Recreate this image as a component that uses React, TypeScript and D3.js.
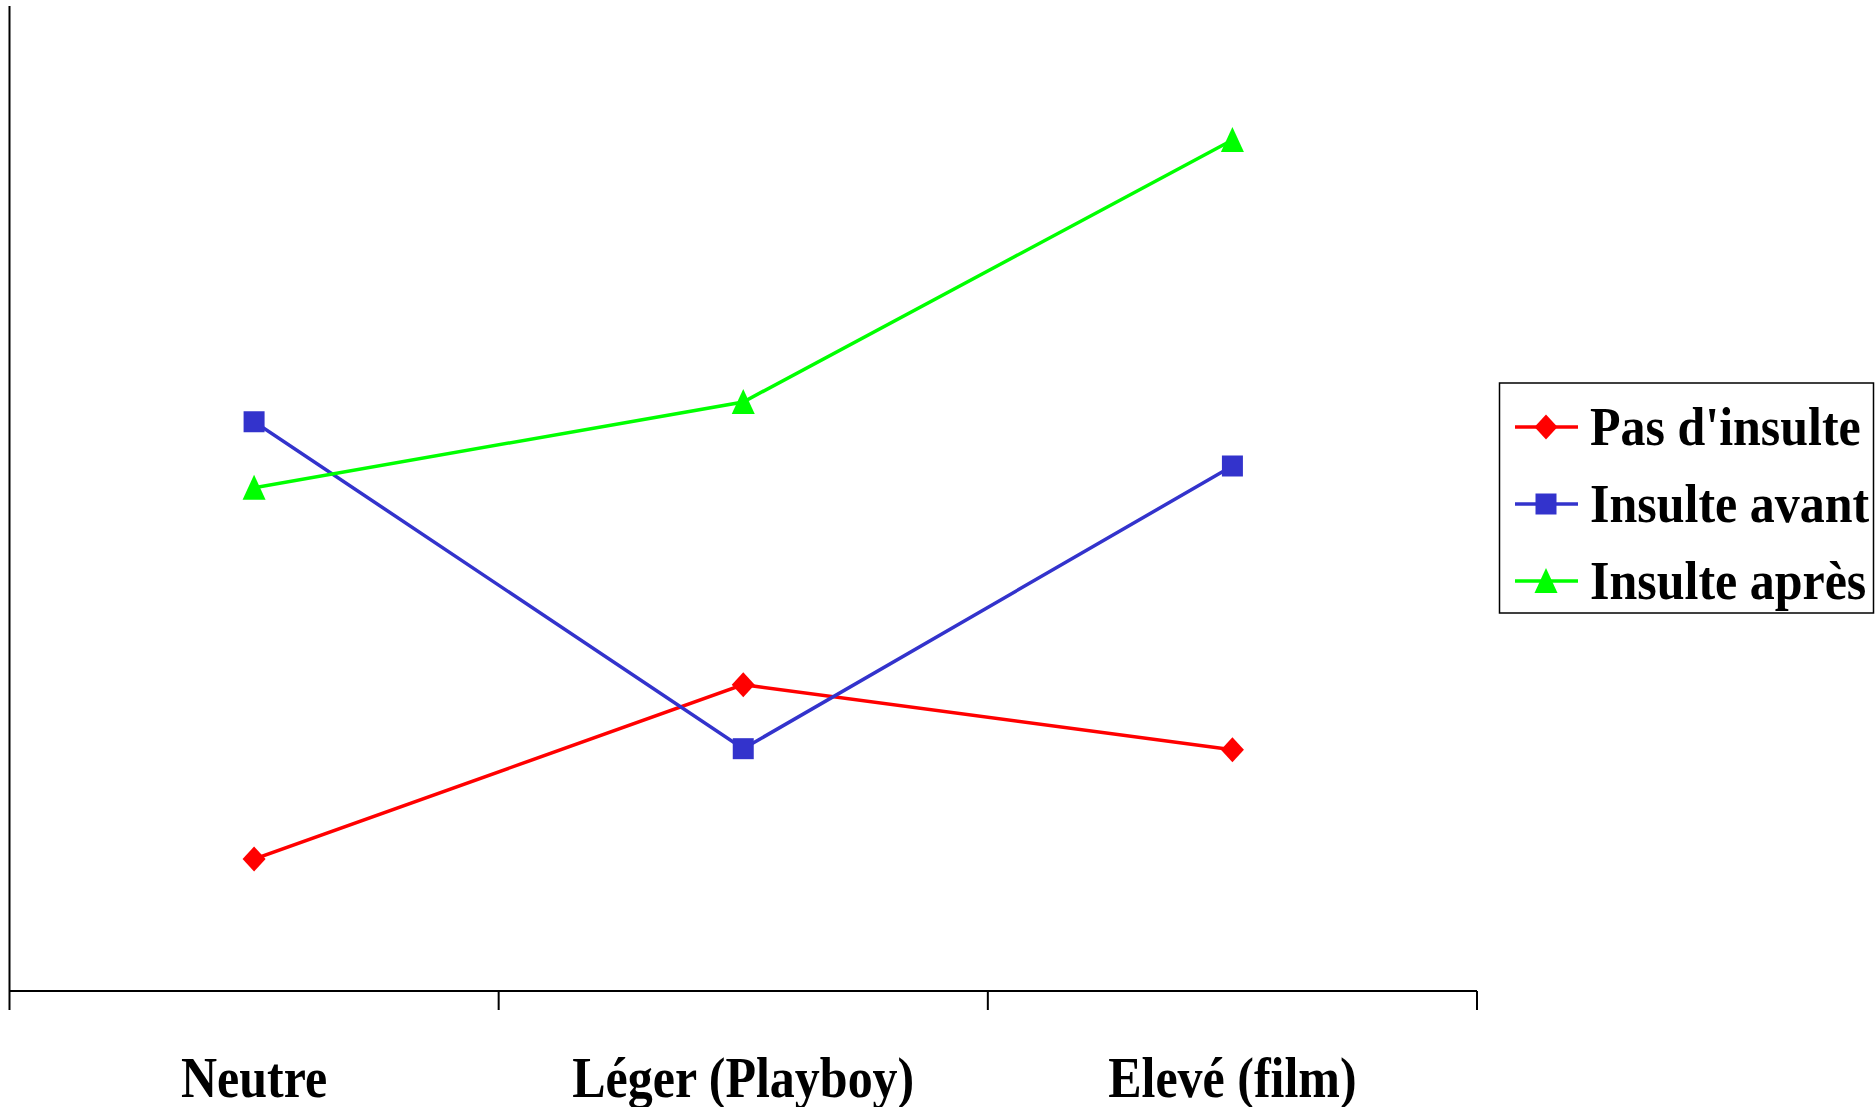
import React from "react";
import * as d3 from "d3";

// Categories and series values
const categories = ["Neutre", "Léger (Playboy)", "Elevé (film)"];
const seriesNames = ["Pas d'insulte", "Insulte avant", "Insulte après"];
const pasDInsulte = [1.34, 3.11, 2.45];
const insulteAvant = [5.78, 2.46, 5.33];
const insulteApres = [5.11, 5.98, 8.64];
const yDomain = [0, 10];

const W = 1875;
const H = 1107;
const plot = { left: 9.5, right: 1477, top: 6, bottom: 991 };

const colors = ["#FF0000", "#3333CC", "#00FF00"];
const shapes = ["diamond", "square", "triangle"];

function markerPath(shape: string, cx: number, cy: number): string {
  if (shape === "diamond") {
    return `M${cx},${cy - 12.5}L${cx + 11.5},${cy}L${cx},${cy + 12.5}L${cx - 11.5},${cy}Z`;
  }
  if (shape === "square") {
    return `M${cx - 10.5},${cy - 10.5}h21v21h-21Z`;
  }
  return `M${cx},${cy - 13}L${cx + 11.5},${cy + 12}L${cx - 11.5},${cy + 12}Z`;
}

export default function App() {
  const x = d3
    .scaleBand<string>()
    .domain(categories)
    .range([plot.left, plot.right])
    .padding(0);
  const y = d3.scaleLinear().domain(yDomain).range([plot.bottom, plot.top]);
  const cx = (c: string) => (x(c) ?? 0) + x.bandwidth() / 2;

  const series = [pasDInsulte, insulteAvant, insulteApres].map((vals, i) => ({
    name: seriesNames[i],
    color: colors[i],
    shape: shapes[i],
    points: vals.map((v, j) => [cx(categories[j]), y(v)] as [number, number]),
  }));

  const line = d3.line<[number, number]>();
  const tickXs = [plot.left, ...categories.map((c) => (x(c) ?? 0) + x.bandwidth())];

  const font = "'Liberation Serif', 'Times New Roman', serif";
  const legend = { x: 1499.5, y: 383, w: 374, h: 230, rows: [427, 504, 581] };
  const labelBaseline = 1097;

  return (
    <svg
      width={W}
      height={H}
      style={{ position: "absolute", left: 0, top: 0, background: "#fff" }}
    >
      <rect x={0} y={0} width={W} height={H} fill="#fff" />
      {/* axes */}
      <line x1={plot.left} y1={plot.top} x2={plot.left} y2={plot.bottom} stroke="#000" strokeWidth={2} />
      <line x1={plot.left} y1={plot.bottom} x2={plot.right} y2={plot.bottom} stroke="#000" strokeWidth={2} />
      {tickXs.map((tx, i) => (
        <line key={i} x1={tx} y1={plot.bottom} x2={tx} y2={plot.bottom + 19} stroke="#000" strokeWidth={2} />
      ))}
      {categories.map((c) => (
        <g key={c} transform={`translate(${cx(c)},${labelBaseline}) scale(1,1.15)`}>
          <text
            x={0}
            y={0}
            textAnchor="middle"
            fontFamily={font}
            fontWeight="bold"
            fontSize={50}
            fill="#000"
          >
            {c}
          </text>
        </g>
      ))}
      {/* series */}
      {series.map((s) => (
        <g key={s.name}>
          <path d={line(s.points) ?? ""} fill="none" stroke={s.color} strokeWidth={3.5} />
          {s.points.map((p, j) => (
            <path key={j} d={markerPath(s.shape, p[0], p[1])} fill={s.color} />
          ))}
        </g>
      ))}
      {/* legend */}
      <rect
        x={legend.x}
        y={legend.y}
        width={legend.w}
        height={legend.h}
        fill="#fff"
        stroke="#000"
        strokeWidth={1.5}
      />
      {series.map((s, i) => {
        const ly = legend.rows[i];
        return (
          <g key={s.name}>
            <line x1={1515} y1={ly} x2={1578} y2={ly} stroke={s.color} strokeWidth={3.5} />
            <path d={markerPath(s.shape, 1546, ly)} fill={s.color} />
            <g transform={`translate(1590,${ly + 18}) scale(1,1.08)`}>
              <text
                x={0}
                y={0}
                fontFamily={font}
                fontWeight="bold"
                fontSize={50}
                fill="#000"
              >
                {s.name}
              </text>
            </g>
          </g>
        );
      })}
    </svg>
  );
}
